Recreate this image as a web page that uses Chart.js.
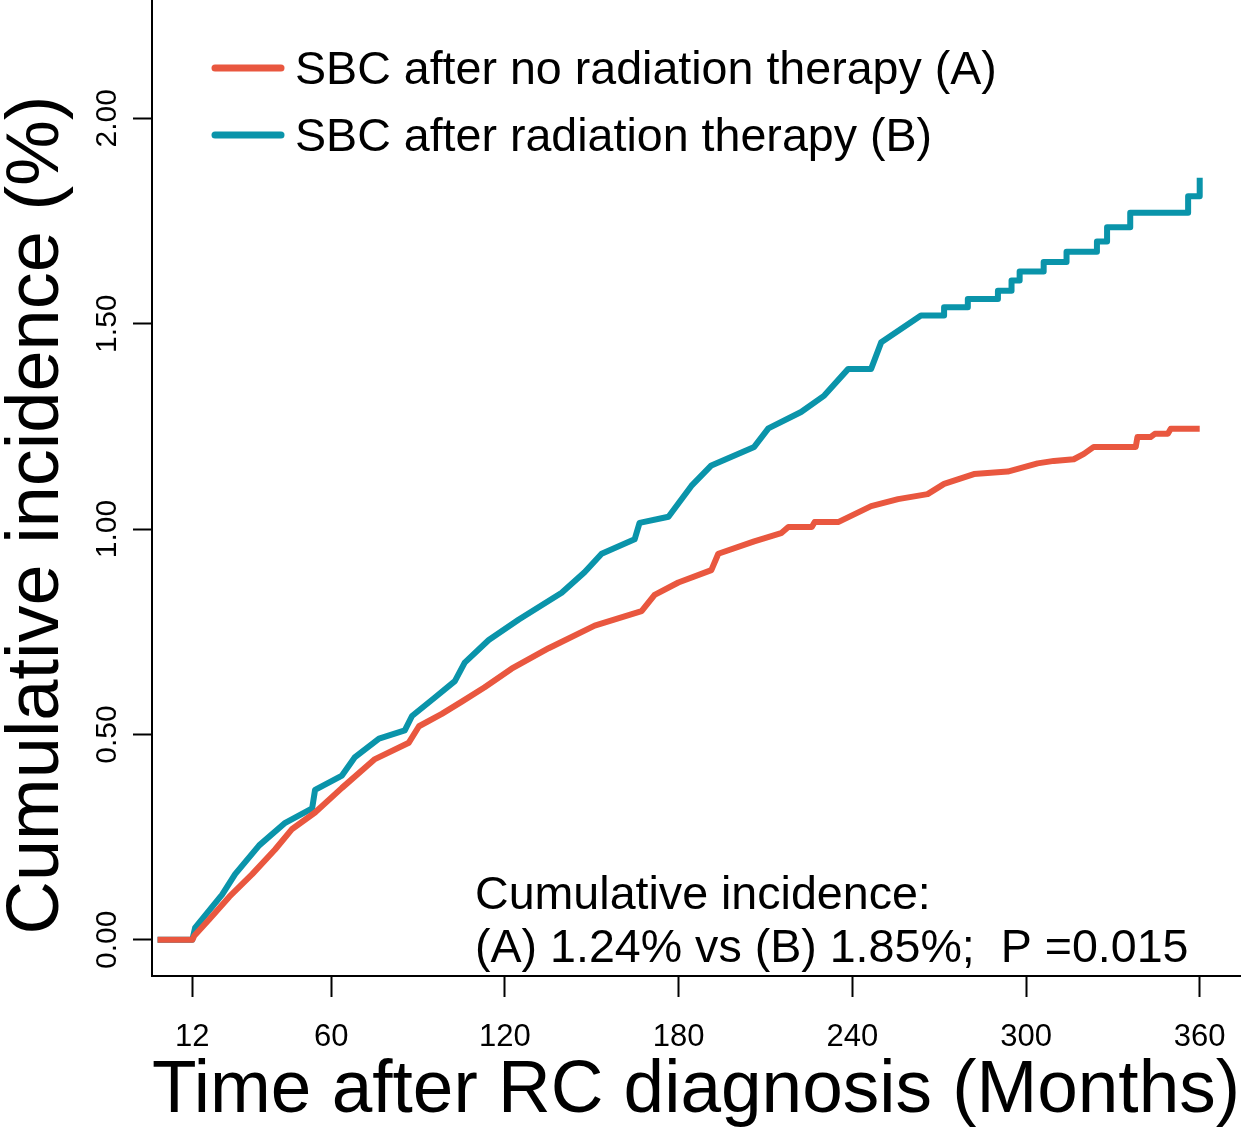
<!DOCTYPE html>
<html>
<head>
<meta charset="utf-8">
<script src="https://cdn.jsdelivr.net/npm/chart.js@4.4.1/dist/chart.umd.min.js"></script>
<style>
  html, body { margin: 0; padding: 0; background: #fff; }
  #wrap { width: 1242px; height: 1132px; }
</style>
</head>
<body>
<div id="wrap"><canvas id="cifChart" width="1242" height="1132"></canvas></div>
<script>
// Months after diagnosis and cumulative incidence (%)
// (A) SBC after no radiation therapy
const monthsA = [0, 12, 12.7, 17.9, 24.8, 32.7, 40.6, 46.5, 54.4, 63.7,
    75.1, 86.8, 90.3, 98.2, 105.1, 113, 122.3, 135.1, 151, 167.2,
    171.7, 179.9, 191.3, 193.7, 206.1, 215.4, 217.9, 226, 227, 235.1,
    246.5, 255.8, 266, 271.7, 282, 293.7, 304, 309.6, 316.5, 320,
    323.4, 337.9, 338.5, 343, 344.5, 349, 350, 360];
const incA = [0, 0, 0.01, 0.05, 0.105, 0.16, 0.22, 0.27, 0.31, 0.37,
    0.44, 0.48, 0.52, 0.55, 0.58, 0.615, 0.66, 0.71, 0.765, 0.80,
    0.84, 0.87, 0.90, 0.94, 0.97, 0.99, 1.005, 1.005, 1.017, 1.017,
    1.056, 1.073, 1.085, 1.11, 1.134, 1.14, 1.16, 1.166, 1.17, 1.183,
    1.20, 1.20, 1.224, 1.224, 1.232, 1.232, 1.244, 1.244];

// (B) SBC after radiation therapy
const monthsB = [0, 12, 13, 22.3, 26.8, 35.1, 44.1, 53.4, 54.4, 63.7,
    68.2, 76.5, 85.4, 87.9, 95.8, 102.7, 106.1, 114.4, 124.8, 139.6,
    147.5, 153.4, 164.8, 166.5, 176.5, 184.4, 191.3, 206.1, 211, 222.3,
    230.3, 238.6, 246.5, 250, 263.7, 271.7, 271.7, 279.9, 279.9, 290.3,
    290.3, 295, 295, 297.8, 297.8, 306.1, 306.1, 314, 314, 324.5,
    324.5, 328, 328, 336, 336, 356, 356, 360, 360];
const incB = [0, 0, 0.03, 0.11, 0.16, 0.23, 0.285, 0.32, 0.365, 0.40,
    0.445, 0.49, 0.51, 0.545, 0.59, 0.63, 0.675, 0.73, 0.78, 0.845,
    0.895, 0.94, 0.975, 1.015, 1.03, 1.105, 1.155, 1.20, 1.245, 1.285,
    1.325, 1.39, 1.39, 1.455, 1.52, 1.52, 1.54, 1.54, 1.56, 1.56,
    1.58, 1.58, 1.605, 1.605, 1.627, 1.627, 1.65, 1.65, 1.675, 1.675,
    1.70, 1.70, 1.735, 1.735, 1.77, 1.77, 1.81, 1.81, 1.855];

const seriesLabels = ['SBC after no radiation therapy (A)', 'SBC after radiation therapy (B)'];
const xTicks = [12, 60, 120, 180, 240, 300, 360];
const yTicks = [0, 0.5, 1, 1.5, 2];
const noteLines = ['Cumulative incidence:', '(A) 1.24% vs (B) 1.85%;  P =0.015'];

const RED = '#e9573f';
const BLUE = '#0a94aa';
const FONT = '"Liberation Sans", Arial, Helvetica, sans-serif';

function toPoints(xs, ys) {
    return xs.map((x, i) => ({ x: x, y: ys[i] }));
}

// scales should not push the plot area in
function noPad(s) {
    s.paddingTop = 0;
    s.paddingBottom = 0;
    s.paddingLeft = 0;
    s.paddingRight = 0;
}

// legend, note and y title drawn on top
const extras = {
    id: 'extras',
    afterDraw(chart) {
        const ctx = chart.ctx;
        ctx.save();
        // legend
        ctx.font = '46.6px ' + FONT;
        ctx.textAlign = 'left';
        ctx.textBaseline = 'alphabetic';
        chart.data.datasets.forEach((ds, i) => {
            const y = 68 + i * 67;
            ctx.strokeStyle = ds.borderColor;
            ctx.lineWidth = 7;
            ctx.lineCap = 'round';
            ctx.beginPath();
            ctx.moveTo(215, y);
            ctx.lineTo(281, y);
            ctx.stroke();
            ctx.fillStyle = '#000';
            ctx.fillText(ds.label, 295, y + 16);
        });
        // note
        noteLines.forEach((t, i) => ctx.fillText(t, 475, 909 + i * 53));
        // y title
        ctx.font = '74px ' + FONT;
        ctx.translate(58, 515);
        ctx.rotate(-Math.PI / 2);
        ctx.textAlign = 'center';
        ctx.fillText('Cumulative incidence (%)', 0, 0);
        ctx.restore();
    }
};

const cifConfig = {
    type: 'line',
    data: {
        datasets: [
            {
                label: seriesLabels[0],
                data: toPoints(monthsA, incA),
                borderColor: RED,
                backgroundColor: RED,
                borderWidth: 6,
                borderJoinStyle: 'round',
                pointRadius: 0,
                tension: 0
            },
            {
                label: seriesLabels[1],
                data: toPoints(monthsB, incB),
                borderColor: BLUE,
                backgroundColor: BLUE,
                borderWidth: 6,
                borderJoinStyle: 'round',
                pointRadius: 0,
                tension: 0
            }
        ]
    },
    options: {
        responsive: false,
        animation: false,
        layout: { autoPadding: false, padding: { left: 0, right: 2, top: 0, bottom: 0 } },
        plugins: {
            legend: { display: false },
            tooltip: { enabled: false }
        },
        scales: {
            x: {
                type: 'linear',
                min: -1.92,
                max: 373.92,
                afterBuildTicks: s => { s.ticks = xTicks.map(v => ({ value: v })); },
                afterFit: s => { s.height = 156; noPad(s); },
                ticks: {
                    autoSkip: false,
                    maxRotation: 0,
                    padding: 22,
                    color: '#000',
                    font: { family: FONT, size: 31 }
                },
                grid: { drawOnChartArea: false, tickLength: 21, tickWidth: 2, tickColor: '#000' },
                border: { color: '#000', width: 2 },
                title: {
                    display: true,
                    text: 'Time after RC diagnosis (Months)',
                    color: '#000',
                    font: { family: FONT, size: 75, lineHeight: 1 },
                    padding: { top: 0, bottom: 3 }
                }
            },
            y: {
                min: -0.088,
                max: 2.288,
                afterBuildTicks: s => { s.ticks = yTicks.map(v => ({ value: v })); },
                afterFit: s => { s.width = 152; noPad(s); },
                ticks: {
                    minRotation: 90,
                    maxRotation: 90,
                    crossAlign: 'center',
                    padding: -4,
                    color: '#000',
                    font: { family: FONT, size: 30 },
                    callback: v => v.toFixed(2)
                },
                grid: { drawOnChartArea: false, tickLength: 19, tickWidth: 2, tickColor: '#000' },
                border: { color: '#000', width: 2 }
            }
        }
    },
    plugins: [extras]
};

window.onload = function() {
    const ctx = document.getElementById('cifChart').getContext('2d');
    new Chart(ctx, cifConfig);
};
</script>
</body>
</html>
